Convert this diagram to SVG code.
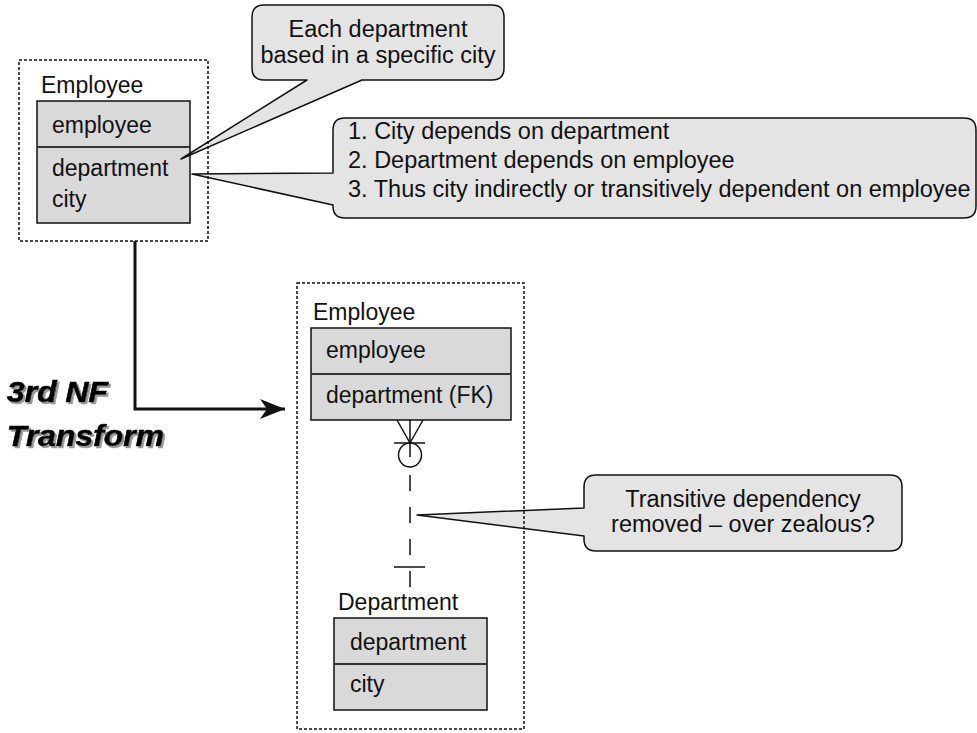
<svg xmlns="http://www.w3.org/2000/svg" width="977" height="733" viewBox="0 0 977 733">
<style>
.t{font-family:"Liberation Sans",Arial,sans-serif;font-size:23px;fill:#111}
.c{font-family:"Liberation Sans",Arial,sans-serif;font-size:23.5px;fill:#111}
.tbl{fill:#d9d9d9;stroke:#111;stroke-width:1.5}
.div{stroke:#333;stroke-width:2}
.call{fill:#e4e4e4;stroke:#111;stroke-width:1.5;stroke-linejoin:round}
.frame{fill:none;stroke:#111;stroke-width:1.5;stroke-dasharray:3 2}
.rel{fill:none;stroke:#111;stroke-width:1.5}
.big{font-family:"Liberation Sans",Arial,sans-serif;font-size:29px;font-weight:bold;font-style:italic}
</style>
<defs>
<marker id="arr" markerUnits="userSpaceOnUse" markerWidth="30" markerHeight="24" refX="25" refY="10" orient="auto" viewBox="0 0 30 24">
<path d="M0,0 L25,10 L0,20 L7,10 Z" fill="#111"/>
</marker>
<filter id="shadow" x="-10%" y="-20%" width="130%" height="150%">
<feOffset in="SourceAlpha" dx="2" dy="2" result="o"/>
<feFlood flood-color="#999"/>
<feComposite in2="o" operator="in" result="s"/>
<feMerge><feMergeNode in="s"/><feMergeNode in="SourceGraphic"/></feMerge>
</filter>
</defs>

<g id="emp1">
<text class="t" x="41" y="93">Employee</text>
<rect class="tbl" x="37" y="101" width="153" height="122"/>
<line class="div" x1="37" y1="147" x2="190" y2="147"/>
<text class="t" x="52" y="133">employee</text>
<text class="t" x="52" y="176">department</text>
<text class="t" x="52" y="207">city</text>
</g>

<g id="emp2">
<text class="t" x="313" y="320">Employee</text>
<rect class="tbl" x="311" y="328" width="200" height="92"/>
<line class="div" x1="311" y1="374" x2="511" y2="374"/>
<text class="t" x="326" y="358">employee</text>
<text class="t" x="326" y="403">department (FK)</text>
</g>

<g id="dept">
<text class="t" x="338" y="610">Department</text>
<rect class="tbl" x="334" y="618" width="153" height="92"/>
<line class="div" x1="334" y1="664" x2="487" y2="664"/>
<text class="t" x="350" y="650">department</text>
<text class="t" x="350" y="692">city</text>
</g>

<g id="callout1">
<path class="call" d="M264,5 H492 Q504,5 504,17 V68 Q504,80 492,80 H362 L181,159 L307,80 H264 Q252,80 252,68 V17 Q252,5 264,5 Z"/>
<text class="c" x="378" y="37" text-anchor="middle">Each department</text>
<text class="c" x="378" y="63" text-anchor="middle">based in a specific city</text>
</g>

<g id="callout2">
<path class="call" d="M345,118 H964 Q976,118 976,130 V206 Q976,218 964,218 H345 Q333,218 333,206 V205 L192,174 L333,173 V130 Q333,118 345,118 Z"/>
<text class="c" x="348" y="139">1. City depends on department</text>
<text class="c" x="348" y="168">2. Department depends on employee</text>
<text class="c" x="348" y="197">3. Thus city indirectly or transitively dependent on employee</text>
</g>

<g id="callout3">
<path class="call" d="M596,475 H890 Q902,475 902,487 V539 Q902,551 890,551 H596 Q584,551 584,539 V536 L417,515 L584,508 V487 Q584,475 596,475 Z"/>
<text class="c" x="743" y="507" text-anchor="middle">Transitive dependency</text>
<text class="c" x="743" y="532" text-anchor="middle">removed – over zealous?</text>
</g>

<g id="frames">
<rect class="frame" x="19" y="60" width="189" height="181"/>
<rect class="frame" x="297" y="283" width="227" height="446"/>
</g>

<g id="connectors">
<path d="M135,241 V409 H285" fill="none" stroke="#111" stroke-width="3" marker-end="url(#arr)"/>
<g class="rel">
<line x1="397" y1="420" x2="410" y2="443"/>
<line x1="423" y1="420" x2="410" y2="443"/>
<line x1="410" y1="420" x2="410" y2="457"/>
<line x1="394" y1="443" x2="425" y2="443"/>
<ellipse cx="410" cy="455" rx="11.5" ry="12"/>
<line x1="410" y1="475" x2="410" y2="587" stroke-dasharray="16 16"/>
<line x1="394" y1="567" x2="425" y2="567"/>
</g>
</g>

<g id="label" filter="url(#shadow)">
<g transform="translate(7,0) scale(1.1,1)" fill="#000" stroke="#000" stroke-width="0.7">
<text class="big" x="0" y="402">3rd NF</text>
<text class="big" x="0" y="446">Transform</text>
</g>
</g>
</svg>
